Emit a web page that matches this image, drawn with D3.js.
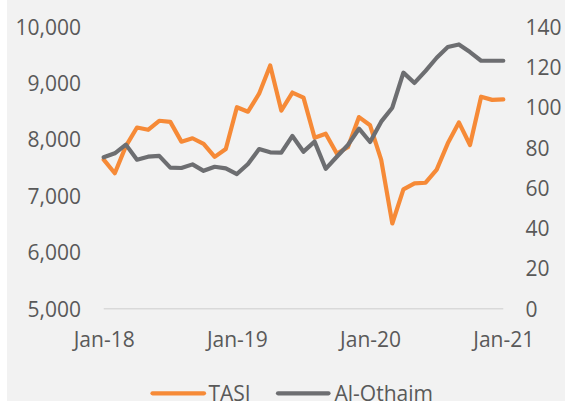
<!DOCTYPE html>
<html>
<head>
<meta charset="utf-8">
<script src="https://cdn.jsdelivr.net/npm/d3@7"></script>
<style>
  body { margin: 0; background: #ffffff; }
  text { font-family: "Open Sans", sans-serif; fill: #595959; }
</style>
</head>
<body>
<div id="chart"></div>
<script>
// monthly categories Jan-18 .. Jan-21
var months = [
  "Jan-18", "Feb-18", "Mar-18", "Apr-18", "May-18", "Jun-18", "Jul-18", "Aug-18", "Sep-18", "Oct-18", "Nov-18", "Dec-18",
  "Jan-19", "Feb-19", "Mar-19", "Apr-19", "May-19", "Jun-19", "Jul-19", "Aug-19", "Sep-19", "Oct-19", "Nov-19", "Dec-19",
  "Jan-20", "Feb-20", "Mar-20", "Apr-20", "May-20", "Jun-20", "Jul-20", "Aug-20", "Sep-20", "Oct-20", "Nov-20", "Dec-20",
  "Jan-21"
];

// TASI index (left axis)
var tasi = [
  7640, 7400, 7880, 8210, 8170, 8330, 8310, 7960, 8020, 7920, 7690, 7830,
  8570, 8490, 8810, 9310, 8510, 8830, 8740, 8030, 8100, 7750, 7860, 8395,
  8250, 7635, 6510, 7115, 7222, 7232, 7465, 7930, 8300, 7900, 8756, 8700,
  8710
];

// Al-Othaim share price (right axis)
var othaim = [
  75.1, 77.1, 81.4, 73.9, 75.4, 75.8, 70.0, 69.8, 71.6, 68.4, 70.4, 69.6,
  66.8, 71.8, 79.2, 77.6, 77.4, 85.7, 77.9, 82.9, 69.4, 75.4, 81.2, 89.3,
  82.7, 92.8, 99.7, 117.1, 112.0, 118.0, 124.5, 129.8, 131.1, 127.3, 123.0, 123.0,
  123.0
];

var xTickLabels = ["Jan-18", "Jan-19", "Jan-20", "Jan-21"];
var leftTicks = [5000, 6000, 7000, 8000, 9000, 10000];
var rightTicks = [0, 20, 40, 60, 80, 100, 120, 140];

var svgWidth = 565;
var svgHeight = 401;
var plot = { left: 103.7, right: 503.3, top: 26.5, bottom: 308.7 };

var orange = "#f68a37";
var grey = "#6d6e71";
var fontSize = 21;

var svg = d3.select("#chart")
  .append("svg")
  .attr("width", svgWidth)
  .attr("height", svgHeight);

// chart area background
svg.append("rect")
  .attr("x", 7)
  .attr("y", 0)
  .attr("width", svgWidth - 7)
  .attr("height", svgHeight)
  .attr("fill", "#f2f2f2");

var xScale = d3.scalePoint()
  .domain(months)
  .range([plot.left, plot.right]);

var yLeft = d3.scaleLinear()
  .domain([5000, 10000])
  .range([plot.bottom, plot.top]);

var yRight = d3.scaleLinear()
  .domain([0, 140])
  .range([plot.bottom, plot.top]);

// baseline gridline
svg.append("line")
  .attr("x1", plot.left)
  .attr("x2", plot.right)
  .attr("y1", yLeft(5000))
  .attr("y2", yLeft(5000))
  .attr("stroke", "#d9d9d9")
  .attr("stroke-width", 1.6);

// left axis
var leftAxis = svg.append("g")
  .attr("transform", "translate(81,0)")
  .call(d3.axisLeft(yLeft).tickValues(leftTicks).tickFormat(d3.format(",")).tickSize(0).tickPadding(0));
leftAxis.select(".domain").remove();
leftAxis.selectAll("text")
  .attr("dy", "0.36em")
  .style("font-size", fontSize + "px")
  .style("font-family", "'Open Sans', sans-serif")
  .attr("fill", "#595959");

// right axis
var rightAxis = svg.append("g")
  .attr("transform", "translate(525.5,0)")
  .call(d3.axisRight(yRight).tickValues(rightTicks).tickSize(0).tickPadding(0));
rightAxis.select(".domain").remove();
rightAxis.selectAll("text")
  .attr("dy", "0.36em")
  .style("font-size", fontSize + "px")
  .style("font-family", "'Open Sans', sans-serif")
  .attr("fill", "#595959");

// bottom axis
var bottomAxis = svg.append("g")
  .attr("transform", `translate(0, ${plot.bottom})`)
  .call(d3.axisBottom(xScale).tickValues(xTickLabels).tickSize(0).tickPadding(23.2));
bottomAxis.select(".domain").remove();
bottomAxis.selectAll("text")
  .style("font-size", fontSize + "px")
  .style("font-family", "'Open Sans', sans-serif")
  .attr("fill", "#595959");

// lines
var tasiLine = d3.line()
  .x((d, i) => xScale(months[i]))
  .y(d => yLeft(d));

var othaimLine = d3.line()
  .x((d, i) => xScale(months[i]))
  .y(d => yRight(d));

svg.append("path")
  .datum(tasi)
  .attr("d", tasiLine)
  .attr("fill", "none")
  .attr("stroke", orange)
  .attr("stroke-width", 4.2)
  .attr("stroke-linejoin", "round")
  .attr("stroke-linecap", "round");

svg.append("path")
  .datum(othaim)
  .attr("d", othaimLine)
  .attr("fill", "none")
  .attr("stroke", grey)
  .attr("stroke-width", 4.2)
  .attr("stroke-linejoin", "round")
  .attr("stroke-linecap", "round");

// legend
var legendItems = [
  { name: "TASI", color: orange, x1: 152.5, x2: 204, tx: 208.5 },
  { name: "Al-Othaim", color: grey, x1: 278, x2: 328.5, tx: 334.5 }
];

var legend = svg.append("g");
legend.selectAll("line")
  .data(legendItems)
  .enter()
  .append("line")
  .attr("x1", d => d.x1)
  .attr("x2", d => d.x2)
  .attr("y1", 393.3)
  .attr("y2", 393.3)
  .attr("stroke", d => d.color)
  .attr("stroke-width", 4.2)
  .attr("stroke-linecap", "round");

legend.selectAll("text")
  .data(legendItems)
  .enter()
  .append("text")
  .attr("x", d => d.tx)
  .attr("y", 400.5)
  .style("font-size", fontSize + "px")
  .text(d => d.name);
</script>
</body>
</html>
